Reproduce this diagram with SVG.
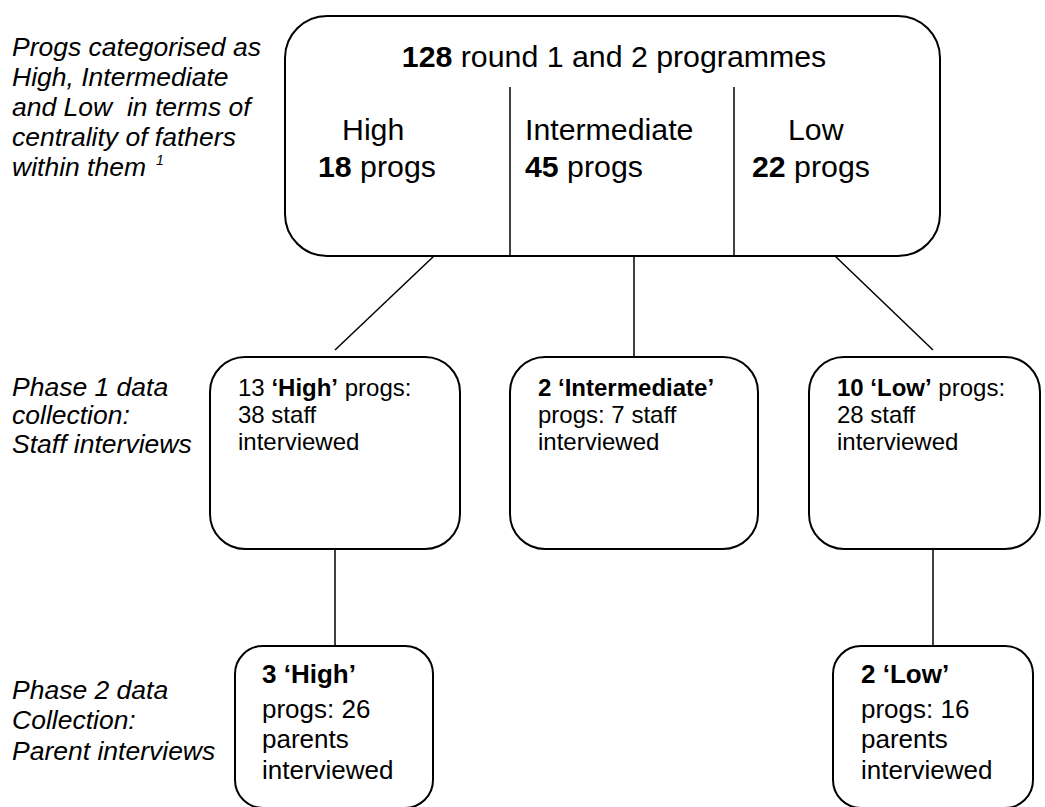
<svg xmlns="http://www.w3.org/2000/svg" width="1045" height="807" viewBox="0 0 1045 807">
<style>
text{font-family:"Liberation Sans",Arial,sans-serif;fill:#000}
.lab{font-size:26.5px;font-style:italic}
.big{font-size:30.3px}
.mid{font-size:24px}
.sm{font-size:26px}
.b{font-weight:bold}
.box{fill:#fff;stroke:#000;stroke-width:2}
.con line{stroke:#000;stroke-width:1.5}
</style>
<rect width="1045" height="807" fill="#fff"/>
<g id="labels">
<text class="lab"><tspan x="12" y="56">Progs categorised as</tspan><tspan x="12" y="86">High, Intermediate</tspan><tspan x="12" y="116">and Low&#160; in terms of</tspan><tspan x="12" y="146">centrality of fathers</tspan><tspan x="12" y="176">within them </tspan></text>
<text x="156" y="165" style="font-size:14px;font-style:italic">1</text>
<text class="lab"><tspan x="12" y="396">Phase 1 data</tspan><tspan x="12" y="424">collection:</tspan><tspan x="12" y="453">Staff interviews</tspan></text>
<text class="lab"><tspan x="12" y="699">Phase 2 data</tspan><tspan x="12" y="729">Collection:</tspan><tspan x="12" y="760">Parent interviews</tspan></text>
</g>
<g id="connectors" class="con">
<line x1="434" y1="256" x2="335" y2="350"/>
<line x1="634" y1="256" x2="634" y2="357"/>
<line x1="835" y1="256" x2="933" y2="350"/>
<line x1="335" y1="549" x2="335" y2="646"/>
<line x1="933" y1="549" x2="933" y2="646"/>
</g>
<g id="top">
<rect class="box" x="285" y="16" width="655" height="240" rx="42"/>
<line x1="510" y1="87" x2="510" y2="256" stroke="#000" stroke-width="1.5"/>
<line x1="734" y1="87" x2="734" y2="256" stroke="#000" stroke-width="1.5"/>
<text class="big" x="614" y="67" text-anchor="middle"><tspan class="b">128</tspan> round 1 and 2 programmes</text>
<text class="big" x="342" y="140">High</text>
<text class="big" x="318" y="177"><tspan class="b">18</tspan> progs</text>
<text class="big" x="525" y="140">Intermediate</text>
<text class="big" x="525" y="177"><tspan class="b">45</tspan> progs</text>
<text class="big" x="788" y="140">Low</text>
<text class="big" x="752" y="177"><tspan class="b">22</tspan> progs</text>
</g>
<g id="p1high">
<rect class="box" x="210" y="357" width="250" height="192" rx="35"/>
<text class="mid"><tspan x="238" y="396">13 <tspan class="b">‘High’</tspan> progs:</tspan><tspan x="238" y="423">38 staff</tspan><tspan x="238" y="450">interviewed</tspan></text>
</g>
<g id="p1int">
<rect class="box" x="510" y="357" width="248" height="192" rx="35"/>
<text class="mid"><tspan x="538" y="396" class="b">2 ‘Intermediate’</tspan><tspan x="538" y="423">progs: 7 staff</tspan><tspan x="538" y="450">interviewed</tspan></text>
</g>
<g id="p1low">
<rect class="box" x="809" y="357" width="231" height="192" rx="35"/>
<text class="mid"><tspan x="837" y="396"><tspan class="b">10 ‘Low’</tspan> progs:</tspan><tspan x="837" y="423">28 staff</tspan><tspan x="837" y="450">interviewed</tspan></text>
</g>
<g id="p2high">
<rect class="box" x="235" y="646" width="198" height="162" rx="28"/>
<text class="sm"><tspan x="262" y="683" class="b">3 ‘High’</tspan><tspan x="262" y="718">progs: 26</tspan><tspan x="262" y="748">parents</tspan><tspan x="262" y="779">interviewed</tspan></text>
</g>
<g id="p2low">
<rect class="box" x="833" y="646" width="200" height="162" rx="28"/>
<text class="sm"><tspan x="861" y="683" class="b">2 ‘Low’</tspan><tspan x="861" y="718">progs: 16</tspan><tspan x="861" y="748">parents</tspan><tspan x="861" y="779">interviewed</tspan></text>
</g>
</svg>
